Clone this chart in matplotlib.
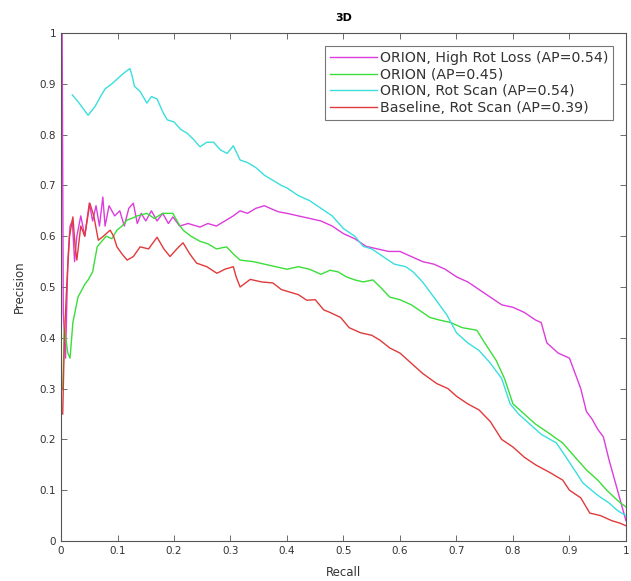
import matplotlib

matplotlib.use("Agg")
import matplotlib.pyplot as plt
import numpy as np

# precision-recall curves
high_rot_recall = [0, 0.002, 0.004, 0.008, 0.012, 0.016, 0.02, 0.024, 0.028, 0.035, 0.042, 0.05, 0.056,
                   0.062, 0.068, 0.074, 0.078, 0.085, 0.095, 0.104, 0.112, 0.12, 0.128, 0.135, 0.142, 0.15,
                   0.16, 0.17, 0.18, 0.19, 0.198, 0.21, 0.225, 0.246, 0.26, 0.275, 0.29, 0.305, 0.317, 0.33,
                   0.345, 0.36, 0.37, 0.385, 0.40, 0.42, 0.44, 0.46, 0.48, 0.50, 0.52, 0.54, 0.56, 0.58, 0.60,
                   0.62, 0.64, 0.66, 0.68, 0.70, 0.72, 0.74, 0.76, 0.78, 0.80, 0.82, 0.84, 0.85, 0.86, 0.88,
                   0.90, 0.91, 0.92, 0.93, 0.94, 0.95, 0.96, 0.97, 0.98, 0.99, 1.0]
high_rot_prec = [1.0, 1.0, 0.45, 0.36, 0.55, 0.62, 0.63, 0.55, 0.6, 0.64, 0.6, 0.665, 0.63, 0.66, 0.62,
                 0.677, 0.62, 0.66, 0.64, 0.65, 0.62, 0.655, 0.665, 0.625, 0.645, 0.63, 0.65, 0.63, 0.645,
                 0.625, 0.638, 0.62, 0.625, 0.618, 0.625, 0.62, 0.63, 0.64, 0.65, 0.645, 0.655, 0.66, 0.655,
                 0.648, 0.645, 0.64, 0.635, 0.63, 0.62, 0.605, 0.595, 0.58, 0.575, 0.57, 0.57, 0.56, 0.55,
                 0.545, 0.535, 0.52, 0.51, 0.495, 0.48, 0.465, 0.46, 0.45, 0.435, 0.43, 0.39, 0.37, 0.36,
                 0.33, 0.30, 0.255, 0.24, 0.22, 0.205, 0.16, 0.12, 0.08, 0.04]

orion_recall = [0.003, 0.006, 0.012, 0.016, 0.021, 0.03, 0.042, 0.048, 0.056, 0.064, 0.072, 0.08, 0.09,
                0.099, 0.108, 0.117, 0.125, 0.135, 0.152, 0.165, 0.18, 0.198, 0.208, 0.216, 0.23, 0.246,
                0.26, 0.275, 0.293, 0.305, 0.317, 0.34, 0.36, 0.38, 0.40, 0.42, 0.44, 0.46, 0.476, 0.49,
                0.505, 0.52, 0.535, 0.552, 0.565, 0.582, 0.60, 0.62, 0.64, 0.653, 0.67, 0.69, 0.71, 0.736,
                0.75, 0.77, 0.785, 0.80, 0.82, 0.84, 0.86, 0.888, 0.91, 0.93, 0.95, 0.966, 0.985, 1.0]
orion_prec = [0.3, 0.42, 0.37, 0.36, 0.43, 0.48, 0.505, 0.514, 0.53, 0.579, 0.59, 0.6, 0.595, 0.612, 0.62,
              0.632, 0.635, 0.64, 0.645, 0.635, 0.645, 0.645, 0.625, 0.612, 0.6, 0.59, 0.585, 0.575, 0.579,
              0.565, 0.553, 0.55, 0.545, 0.54, 0.535, 0.54, 0.535, 0.525, 0.533, 0.53, 0.52, 0.514, 0.51,
              0.514, 0.5, 0.48, 0.475, 0.465, 0.45, 0.44, 0.435, 0.43, 0.42, 0.415, 0.39, 0.356, 0.32, 0.27,
              0.25, 0.23, 0.215, 0.193, 0.165, 0.14, 0.12, 0.10, 0.08, 0.067]

rot_scan_recall = [0.02, 0.03, 0.04, 0.048, 0.06, 0.07, 0.078, 0.09, 0.1, 0.11, 0.122, 0.126, 0.13, 0.14,
                   0.152, 0.16, 0.17, 0.18, 0.188, 0.2, 0.212, 0.223, 0.235, 0.246, 0.258, 0.27, 0.282,
                   0.294, 0.305, 0.317, 0.33, 0.345, 0.36, 0.375, 0.39, 0.40, 0.42, 0.44, 0.46, 0.48, 0.50,
                   0.52, 0.535, 0.55, 0.57, 0.59, 0.61, 0.623, 0.64, 0.66, 0.683, 0.70, 0.72, 0.74, 0.76,
                   0.78, 0.795, 0.81, 0.83, 0.85, 0.877, 0.90, 0.924, 0.95, 0.97, 0.985, 1.0]
rot_scan_prec = [0.878, 0.865, 0.85, 0.838, 0.855, 0.875, 0.89, 0.9, 0.91, 0.92, 0.93, 0.915, 0.895, 0.885,
                 0.862, 0.875, 0.87, 0.845, 0.829, 0.825, 0.81, 0.803, 0.79, 0.776, 0.785, 0.785, 0.77,
                 0.763, 0.778, 0.75, 0.745, 0.735, 0.72, 0.71, 0.7, 0.695, 0.68, 0.67, 0.655, 0.64, 0.615,
                 0.6, 0.58, 0.575, 0.56, 0.545, 0.54, 0.53, 0.51, 0.48, 0.445, 0.41, 0.39, 0.375, 0.35,
                 0.32, 0.27, 0.25, 0.23, 0.21, 0.193, 0.155, 0.114, 0.09, 0.075, 0.06, 0.05]

baseline_recall = [0.003, 0.006, 0.01, 0.015, 0.021, 0.025, 0.028, 0.035, 0.042, 0.051, 0.058, 0.066,
                   0.075, 0.087, 0.093, 0.099, 0.108, 0.117, 0.128, 0.14, 0.155, 0.17, 0.182, 0.193, 0.205,
                   0.216, 0.228, 0.24, 0.258, 0.276, 0.29, 0.305, 0.31, 0.317, 0.335, 0.355, 0.375, 0.39,
                   0.405, 0.42, 0.435, 0.45, 0.465, 0.476, 0.495, 0.51, 0.53, 0.55, 0.565, 0.582, 0.60,
                   0.62, 0.64, 0.665, 0.685, 0.70, 0.72, 0.74, 0.76, 0.78, 0.80, 0.82, 0.84, 0.865, 0.888,
                   0.90, 0.92, 0.936, 0.955, 0.975, 0.99, 1.0]
baseline_prec = [0.25, 0.4, 0.5, 0.6, 0.638, 0.58, 0.553, 0.62, 0.6, 0.665, 0.64, 0.592, 0.6, 0.612, 0.6,
                 0.579, 0.565, 0.553, 0.56, 0.579, 0.575, 0.598, 0.575, 0.56, 0.575, 0.587, 0.565, 0.547,
                 0.54, 0.527, 0.535, 0.54, 0.52, 0.50, 0.515, 0.51, 0.508, 0.495, 0.49, 0.485, 0.474, 0.475,
                 0.455, 0.45, 0.44, 0.42, 0.41, 0.405, 0.395, 0.38, 0.37, 0.35, 0.33, 0.31, 0.30, 0.285,
                 0.27, 0.258, 0.235, 0.2, 0.185, 0.165, 0.15, 0.135, 0.12, 0.10, 0.085, 0.055, 0.05, 0.04,
                 0.035, 0.03]

labels = [
    "ORION, High Rot Loss (AP=0.54)",
    "ORION (AP=0.45)",
    "ORION, Rot Scan (AP=0.54)",
    "Baseline, Rot Scan (AP=0.39)",
]
colors = ["#dd3cdd", "#3ade3a", "#3adede", "#e03a3a"]
ticks = np.round(np.arange(0, 1.01, 0.1), 1)
tick_labels = ["0", "0.1", "0.2", "0.3", "0.4", "0.5", "0.6", "0.7", "0.8", "0.9", "1"]

AXIS_GRAY = "#555555"

fig = plt.figure(figsize=(6.31, 5.81), dpi=100)
ax = fig.add_axes([0.0967, 0.0688, 0.8953, 0.8744])

curves = [
    (high_rot_recall, high_rot_prec),
    (orion_recall, orion_prec),
    (rot_scan_recall, rot_scan_prec),
    (baseline_recall, baseline_prec),
]
for (rec, prec), color, label in zip(curves, colors, labels):
    ax.plot(rec, prec, color=color, linewidth=1.0, label=label)

ax.set_xlim(0, 1)
ax.set_ylim(0, 1)
ax.set_xticks(ticks)
ax.set_yticks(ticks)
ax.set_xticklabels(tick_labels)
ax.set_yticklabels(tick_labels)
ax.tick_params(direction="in", top=True, right=True, length=4, width=0.6,
               labelsize=7.5, colors=AXIS_GRAY, labelcolor="#333333")
for spine in ax.spines.values():
    spine.set_color(AXIS_GRAY)
    spine.set_linewidth(0.8)

ax.set_xlabel("Recall", fontsize=8.5, color="#333333", labelpad=7)
ax.set_ylabel("Precision", fontsize=8.5, color="#333333", labelpad=10)
ax.set_title("3D", fontsize=8, fontweight="bold", pad=9)

leg = ax.legend(loc="upper right", fontsize=10.2, frameon=True, fancybox=False,
                borderaxespad=0.9, handlelength=3.3, labelspacing=0.2,
                borderpad=0.35, handletextpad=0.2)
leg.get_frame().set_edgecolor(AXIS_GRAY)
leg.get_frame().set_linewidth(0.8)
for text in leg.get_texts():
    text.set_color("#333333")

fig.savefig("out.png", dpi=100)
